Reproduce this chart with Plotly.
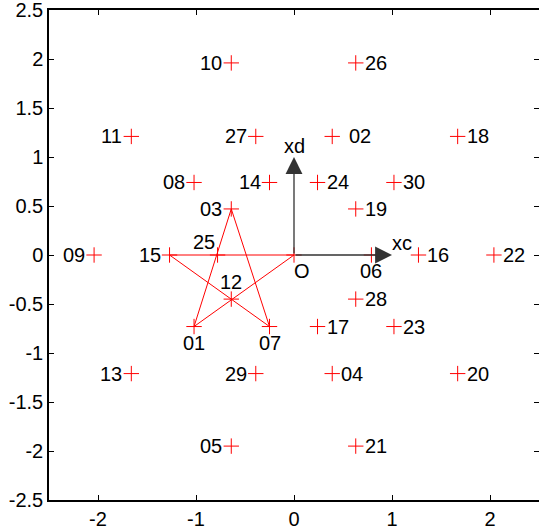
import plotly.graph_objects as go

# labelled points
labels = ["10", "26", "11", "27", "02", "18", "08", "14", "24", "30",
          "03", "19", "09", "15", "25", "O", "06", "16", "22", "12",
          "28", "01", "07", "17", "23", "13", "29", "04", "20", "05", "21"]
xs = [-0.64, 0.63, -1.66, -0.39, 0.39, 1.67, -1.02, -0.25, 0.24, 1.02,
      -0.64, 0.63, -2.04, -1.27, -0.78, 0.0, 0.79, 1.27, 2.04, -0.64,
      0.63, -1.02, -0.25, 0.24, 1.02, -1.66, -0.39, 0.39, 1.67, -0.64, 0.63]
ys = [1.96, 1.96, 1.21, 1.21, 1.21, 1.21, 0.74, 0.74, 0.74, 0.74,
      0.47, 0.47, 0.0, 0.0, 0.0, 0.0, 0.0, 0.0, 0.0, -0.45,
      -0.45, -0.73, -0.73, -0.73, -0.73, -1.21, -1.21, -1.21, -1.21, -1.95, -1.95]
label_side = ["left", "right", "left", "left", "right", "right", "left", "left", "right", "right",
              "left", "right", "left", "left", "upleft", "downright", "down", "right", "right", "up",
              "right", "down", "down", "right", "right", "left", "left", "right", "right", "left",
              "right"]

x_ticks = [-2, -1, 0, 1, 2]
y_ticks = [-2.5, -2, -1.5, -1, -0.5, 0, 0.5, 1, 1.5, 2, 2.5]
x_ticktext = ["-2", "-1", "0", "1", "2"]
y_ticktext = ["-2.5", "-2", "-1.5", "-1", "-0.5", "0", "0.5", "1", "1.5", "2", "2.5"]

# pentagram path: 15 -> O -> 01 -> 03 -> 07 -> 15
star = ["15", "O", "01", "03", "07", "15"]
star_x = [xs[labels.index(s)] for s in star]
star_y = [ys[labels.index(s)] for s in star]

font = dict(family="Liberation Sans, Arial, sans-serif", size=20, color="black")

# anchor / pixel offset of each label relative to its marker
place = {
    "left": ("right", "middle", -7, 0),
    "right": ("left", "middle", 7, 0),
    "upleft": ("center", "middle", -14, 13),
    "up": ("center", "middle", 0, 17),
    "down": ("center", "middle", 0, -16),
    "downright": ("center", "middle", 8, -16),
}

fig = go.Figure()
fig.add_trace(go.Scatter(x=star_x, y=star_y, mode="lines",
                         line=dict(color="red", width=1), hoverinfo="skip"))
fig.add_trace(go.Scatter(x=xs, y=ys, mode="markers",
                         marker=dict(symbol="cross-thin", size=11,
                                     line=dict(color="red", width=1))))

for t, x, y, side in zip(labels, xs, ys, label_side):
    xa, ya, dx, dy = place[side]
    if t == "02":
        dx += 8
    fig.add_annotation(x=x, y=y, text=t, showarrow=False, font=font,
                       xanchor=xa, yanchor=ya, xshift=dx, yshift=dy)

# coordinate arrows
for tx, ty, name, lx, ly in [(1, 0, "xc", 1.1, 0.12), (0, 1, "xd", 0.0, 1.11)]:
    fig.add_annotation(x=tx, y=ty, ax=0, ay=0, xref="x", yref="y", axref="x", ayref="y",
                       text="", showarrow=True, arrowhead=2, arrowsize=2.6,
                       arrowwidth=1.3, arrowcolor="#333")
    fig.add_annotation(x=lx, y=ly, text=name, showarrow=False, font=font)

axis = dict(range=[-2.5, 2.5], showgrid=False, zeroline=False, automargin=False,
            showline=True, linecolor="black", linewidth=1.5, mirror="ticks",
            ticks="inside", ticklen=5, tickcolor="black", tickfont=font,
            ticklabeloverflow="allow")

fig.update_layout(width=539, height=531, showlegend=False,
                  margin=dict(l=49, r=0, t=10, b=31),
                  plot_bgcolor="white", paper_bgcolor="white",
                  xaxis=dict(axis, tickvals=x_ticks, ticktext=x_ticktext),
                  yaxis=dict(axis, tickvals=y_ticks, ticktext=y_ticktext))

fig.write_html("out.html", config={"displayModeBar": False},
               post_script="document.body.style.margin='0';")
